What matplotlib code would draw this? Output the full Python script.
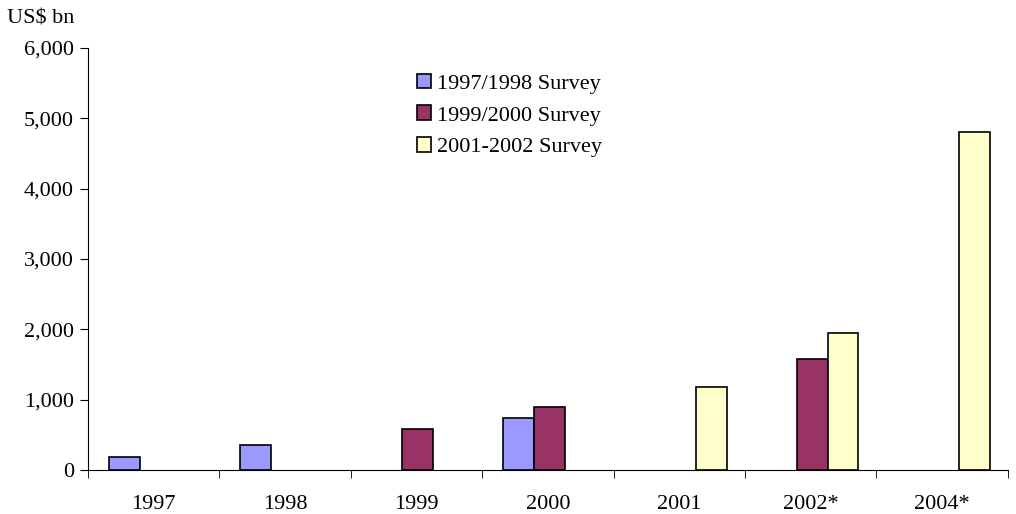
import numpy as np
import matplotlib.pyplot as plt

# data (US$ bn)
years = ['1997', '1998', '1999', '2000', '2001', '2002*', '2004*']
survey_9798 = [180, 350, 0, 740, 0, 0, 0]
survey_9900 = [0, 0, 590, 890, 0, 1580, 0]
survey_0102 = [0, 0, 0, 0, 1180, 1950, 4800]
labels = ['1997/1998 Survey', '1999/2000 Survey', '2001-2002 Survey']
colors = ['#9999FF', '#993366', '#FFFFCC']

plt.rcParams['font.family'] = ['Liberation Serif', 'DejaVu Serif']
plt.rcParams['font.size'] = 16

fig = plt.figure(figsize=(10.16, 5.14), dpi=100)
ax = fig.add_axes([0.0866, 0.0856, 0.9054, 0.821])

x = np.arange(len(years))
w = 0.235
for i, (vals, lab, col) in enumerate(zip([survey_9798, survey_9900, survey_0102], labels, colors)):
    v = np.array(vals, dtype=float)
    mask = v > 0
    ax.bar(x[mask] + (i - 1) * w + 0.01, v[mask], width=w, color=col,
           edgecolor='black', linewidth=1.2, label=lab)

ax.set_xlim(-0.5, len(years) - 0.5)
ax.set_ylim(0, 6000)
ax.set_yticks(np.arange(0, 6001, 1000))
ax.set_yticklabels([f'{v:,}' for v in range(0, 6001, 1000)])
ax.set_xticks(x)
ax.set_xticklabels(years)
ax.set_xticks(np.arange(-0.5, len(years) - 0.4, 1), minor=True)
ax.tick_params(axis='x', which='major', length=0, pad=18)
ax.tick_params(axis='x', which='minor', length=6, direction='out')
ax.tick_params(axis='y', length=6, direction='out', pad=4)

for s in ['top', 'right']:
    ax.spines[s].set_visible(False)

fig.text(0.007, 0.963, 'US$ bn', ha='left', va='center', fontsize=16)

ax.legend(loc='upper left', bbox_to_anchor=(0.41, 0.857), bbox_transform=fig.transFigure,
          frameon=False, handlelength=0.65, handleheight=0.65, handletextpad=0.25,
          labelspacing=0.52, borderaxespad=0, borderpad=0, fontsize=16)

fig.savefig('out.png', dpi=100)
